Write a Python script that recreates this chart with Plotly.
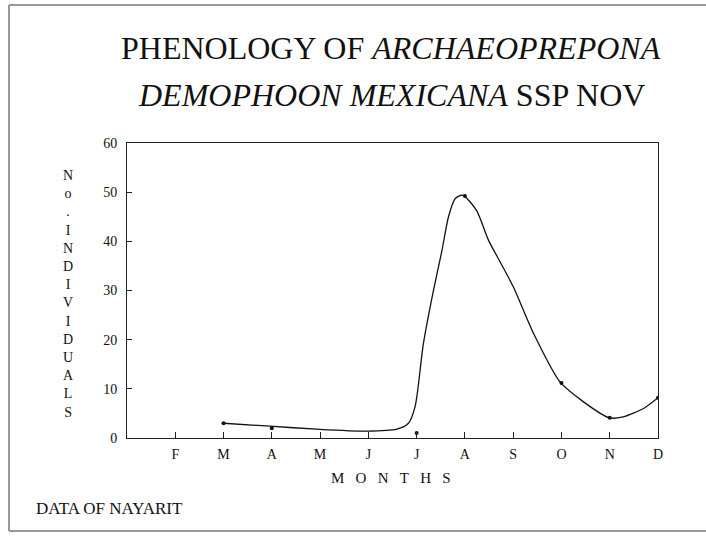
import plotly.graph_objects as go

# Observed data points (month number, count)
months_pts = [3, 4, 7, 8, 10, 11, 12]
counts_pts = [3, 2, 1, 49.2, 11.2, 4.1, 8.2]

# Smoothed curve as drawn in the figure
curve_x = [3.0, 3.96, 4.93, 5.97, 6.59, 6.83, 6.97, 7.14, 7.35, 7.52, 7.66, 7.80, 7.95,
           8.24, 8.49, 8.73, 9.0, 9.42, 9.97, 10.45, 10.99, 11.28, 11.7, 12.0]
curve_y = [3.0, 2.4, 1.8, 1.4, 1.8, 3.0, 6.5, 19.2, 30.1, 37.9, 45.0, 48.7, 49.4,
           46.3, 40.2, 35.8, 30.8, 21.3, 11.4, 7.4, 4.1, 4.3, 6.0, 8.2]

tick_vals = [2, 3, 4, 5, 6, 7, 8, 9, 10, 11, 12]
tick_text = ["F", "M", "A", "M", "J", "J", "A", "S", "O", "N", "D"]
y_ticks = [0, 10, 20, 30, 40, 50, 60]

ylabel_chars = ["N", "o", ".", "I", "N", "D", "I", "V", "I", "D", "U", "A", "L", "S"]
xlabel_chars = ["M", "O", "N", "T", "H", "S"]
title_line1 = "PHENOLOGY OF <i>ARCHAEOPREPONA</i>"
title_line2 = "<i>DEMOPHOON MEXICANA</i> SSP NOV"

SERIF = "Liberation Serif, serif"

L, R, T, B = 127, 658, 143, 438
W, H = 706, 537


def px(xp):
    return (xp - L) / (R - L)


def py(yp):
    return (B - yp) / (B - T)


fig = go.Figure()
fig.add_trace(go.Scatter(x=curve_x, y=curve_y, mode="lines",
                         line=dict(color="#111", width=1.3, shape="spline", smoothing=0.7),
                         hoverinfo="skip", showlegend=False))
fig.add_trace(go.Scatter(x=months_pts, y=counts_pts, mode="markers",
                         marker=dict(color="#111", size=4), showlegend=False))

fig.update_layout(
    width=W, height=H,
    margin=dict(l=L, r=W - R, t=T, b=H - B, autoexpand=False),
    paper_bgcolor="white", plot_bgcolor="white",
    font=dict(family=SERIF, color="#111"),
    xaxis=dict(range=[1, 12], tickvals=tick_vals, ticktext=tick_text, automargin=False,
               ticks="inside", ticklen=6, tickcolor="#222", showgrid=False, zeroline=False,
               showline=True, linecolor="#222", linewidth=1, mirror=True,
               ticklabelstandoff=3, tickfont=dict(size=14, family=SERIF)),
    yaxis=dict(range=[0, 60], tickvals=y_ticks, ticks="inside", ticklen=5, tickcolor="#222",
               automargin=False, ticklabelstandoff=6,
               showgrid=False, zeroline=False, showline=True, linecolor="#222", linewidth=1,
               mirror=True, tickfont=dict(size=14, family=SERIF)),
    showlegend=False,
)

for txt, yc in [(title_line1, 48), (title_line2, 95)]:
    fig.add_annotation(
        text=txt, xref="paper", yref="paper", x=px(391), y=py(yc),
        xanchor="center", yanchor="middle", showarrow=False,
        font=dict(size=32, family=SERIF, color="#111"),
    )
fig.add_annotation(
    text="<br>".join(ylabel_chars), xref="paper", yref="paper",
    x=px(68), y=py(294), xanchor="center", yanchor="middle",
    showarrow=False, font=dict(size=14, family=SERIF), align="center",
)
fig.add_annotation(
    text="&nbsp;&nbsp;&nbsp;".join(xlabel_chars), xref="paper", yref="paper", x=px(391), y=py(478),
    xanchor="center", yanchor="middle", showarrow=False, font=dict(size=15, family=SERIF),
)
fig.add_annotation(
    text="DATA OF NAYARIT", xref="paper", yref="paper", x=px(34), y=py(508),
    xanchor="left", yanchor="middle", showarrow=False, font=dict(size=17, family=SERIF),
)

# page frame (left, top, bottom)
for x0, y0, x1, y1 in [(9, 5, 9, 531), (9, 5, 706, 5), (9, 531, 706, 531)]:
    fig.add_shape(type="line", xref="paper", yref="paper",
                  x0=px(x0), y0=py(y0), x1=px(x1), y1=py(y1),
                  line=dict(color="#999", width=2))

fig.write_html("out.html", config={"displayModeBar": False},
               post_script="document.body.style.margin='0';")
